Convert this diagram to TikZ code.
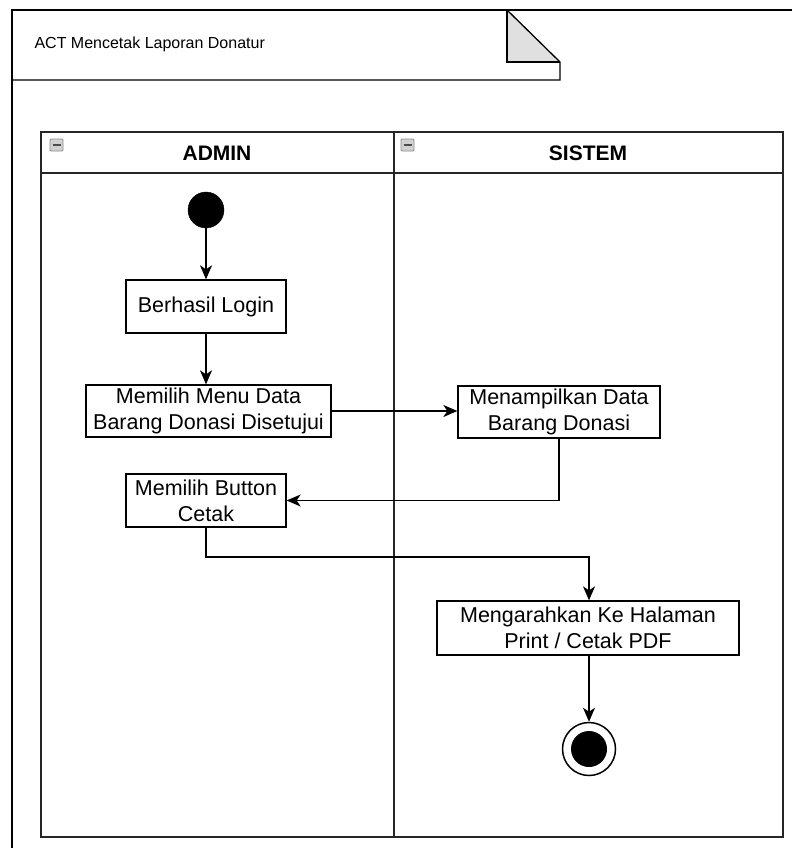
\documentclass[tikz,border=0pt]{standalone}
\usepackage{fontspec}
\setmainfont{Liberation Sans}
\usetikzlibrary{arrows.meta}
\begin{document}
\begin{tikzpicture}[x=1pt,y=-1pt,
  act/.style={draw=black,line width=1.3pt,fill=white,align=center,inner sep=2pt,
    font=\fontsize{21.5}{26}\selectfont},
  flow/.style={draw=black,line width=1.3pt,-{Stealth[length=14pt,width=12pt,inset=4pt]}},
  lanebox/.style={draw=black!85,line width=1.6pt},
  minusicon/.style={draw=black!45,fill=black!18,rounded corners=1pt,line width=0.8pt}
]
\useasboundingbox (0,0) rectangle (792,848);
% outer frame
\draw[line width=1.3pt] (792,10) -- (12,10) -- (12,848);
% title tab
\fill[black!12] (507,10) -- (560,62) -- (507,62) -- cycle;
\draw[line width=1.3pt] (12,80) -- (560,80) -- (560,62) -- (507,10);
\draw[line width=1.3pt] (507,10) -- (507,62) -- (560,62);
\node[anchor=west,font=\fontsize{16}{18}\selectfont] (title) at (31,44.5) {ACT Mencetak Laporan Donatur};
% pool
\draw[lanebox] (41,132) rectangle (783,837);
\draw[lanebox] (41,173) -- (783,173);
\draw[lanebox] (394,132) -- (394,837);
\node[font=\bfseries\fontsize{21}{24}\selectfont] (admin) at (217,153) {ADMIN};
\node[font=\bfseries\fontsize{21}{24}\selectfont] (sistem) at (588,153) {SISTEM};
\draw[minusicon] (50,139) rectangle (63,151);
\draw[black!70,line width=1.4pt] (52.5,145) -- (60.5,145);
\draw[minusicon] (401,139) rectangle (414,151);
\draw[black!70,line width=1.4pt] (403.5,145) -- (411.5,145);
% nodes
\node[circle,fill=black,draw=black,minimum size=36pt,inner sep=0pt] (start) at (206,210) {};
\node[act,minimum width=160pt,minimum height=53pt] (login) at (206,306.5) {Berhasil Login};
\node[act,minimum width=245pt,minimum height=52pt] (menu) at (208.5,411) {Memilih Menu Data\\Barang Donasi Disetujui};
\node[act,minimum width=202pt,minimum height=52pt] (tampil) at (559,412) {Menampilkan Data\\Barang Donasi};
\node[act,minimum width=160pt,minimum height=53pt] (button) at (206,500.5) {Memilih Button\\Cetak};
\node[act,minimum width=302pt,minimum height=54pt] (arah) at (588,628) {Mengarahkan Ke Halaman\\Print / Cetak PDF};
\node[circle,draw=black,line width=1.5pt,fill=white,minimum size=53pt,inner sep=0pt] (end) at (589,749) {};
\node[circle,fill=black,minimum size=36pt,inner sep=0pt] (endin) at (end.center) {};
% connectors
\coordinate (bend) at (206,557);
\draw[flow] (start.south) -- (login.north);
\draw[flow] (login.south) -- (login.south |- menu.north);
\draw[flow] (menu.east |- 0,411) -- (tampil.west |- 0,411);
\draw[flow] (tampil.south) -- (tampil.south |- button.east) -- (button.east);
\draw[flow] (button.south) -- (bend) -- (bend -| end.north) -- (end.north |- arah.north);
\draw[flow] (end.north |- arah.south) -- (end.north);
\end{tikzpicture}
\end{document}
